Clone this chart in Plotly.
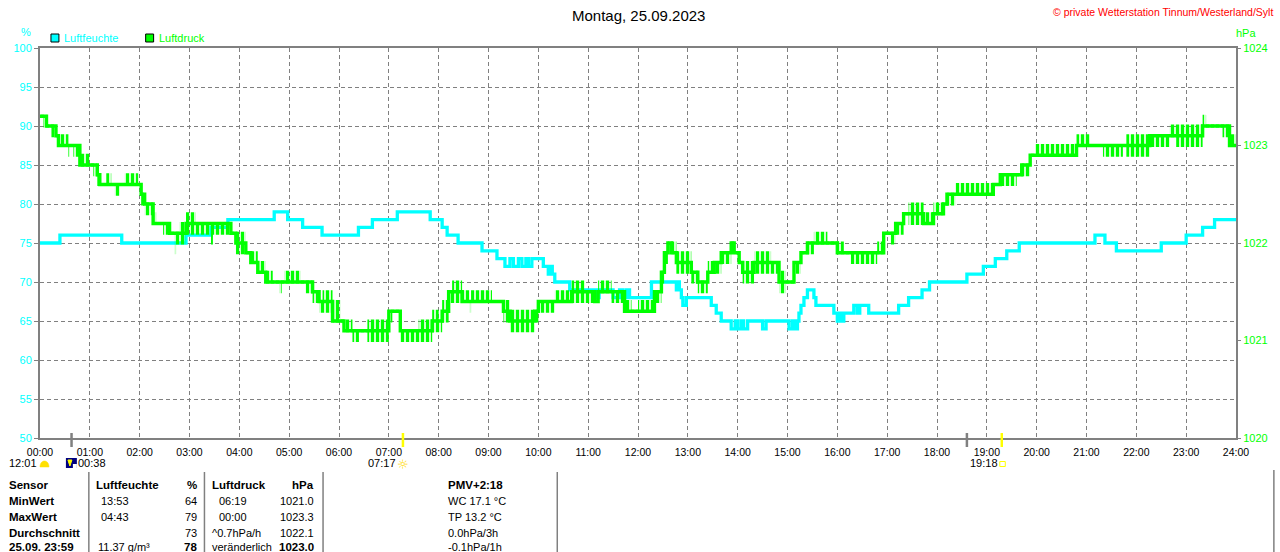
import plotly.graph_objects as go

# ---------------- data ----------------
hours = list(range(25))
hour_labels = [f"{h:02d}:00" for h in hours]
hum_ticks = [50, 55, 60, 65, 70, 75, 80, 85, 90, 95, 100]
press_ticks = [1020, 1021, 1022, 1023, 1024]

# Luftfeuchte (%) - step changes (hour, value)
hum_t = [0.00, 0.40, 1.64, 2.93, 3.43, 3.77, 4.70, 4.97, 5.27, 5.66, 6.39, 6.67, 7.17, 7.83,
         8.07, 8.17, 8.39, 8.87, 9.17, 9.33, 9.43, 9.50, 9.60, 9.67, 9.75, 9.80, 9.87, 10.10,
         10.20, 10.25, 10.28, 10.33, 10.63, 11.19, 11.22, 11.50, 11.63, 11.70, 11.77, 11.83,
         12.27, 12.77, 12.80, 12.83, 12.87, 12.90, 12.97, 13.47, 13.57, 13.67, 13.87, 13.95,
         14.00, 14.07, 14.12, 14.20, 14.50, 14.57, 15.03, 15.10, 15.15, 15.20, 15.23, 15.27,
         15.33, 15.40, 15.53, 15.57, 15.93, 16.00, 16.05, 16.10, 16.13, 16.33, 16.40, 16.45,
         16.63, 17.23, 17.43, 17.70, 17.85, 18.60, 18.93, 19.17, 19.40, 19.65, 21.17, 21.37,
         21.60, 22.50, 23.00, 23.33, 23.57, 24.00]
hum_v = [75, 76, 75, 76, 77, 78, 79, 78, 77, 76, 77, 78, 79, 78,
         77, 76, 75, 74, 73, 72, 73, 72, 73, 72, 73, 72, 73, 72,
         71, 72, 71, 70, 69, 68, 69, 68, 69, 68, 69, 68,
         70, 69, 70, 69, 68, 67, 68, 67, 66, 65, 64, 65,
         64, 65, 64, 65, 64, 65, 64, 65, 64, 65, 66, 67,
         68, 69, 68, 67, 66, 65, 66, 65, 66, 67, 66, 67,
         66, 67, 68, 69, 70, 71, 72, 73, 74, 75, 76, 75,
         74, 75, 76, 77, 78, 78]

# Luftdruck (hPa) - segments: start hour; lowest, highest and most frequent reading
press_t = [0.00, 0.07, 0.13, 0.23, 0.32, 0.37, 0.57, 0.60, 0.67, 0.80,
           1.00, 1.07, 1.15, 1.20, 1.33, 1.43, 1.50, 1.60, 1.70, 1.97,
           2.03, 2.10, 2.27, 2.33, 2.47, 2.60, 2.70, 2.73, 2.80, 2.93,
           3.13, 3.43, 3.47, 3.83, 3.93, 4.13, 4.23, 4.37, 4.53, 4.67,
           4.80, 4.85, 4.90, 5.23, 5.33, 5.47, 5.60, 5.67, 5.87, 6.03,
           6.10, 6.27, 6.40, 6.57, 7.00, 7.07, 7.23, 7.60, 7.87, 8.00,
           8.07, 8.20, 8.27, 8.47, 8.62, 8.65, 9.07, 9.30, 9.43, 9.93,
           10.00, 10.33, 10.67, 10.93, 11.13, 11.20, 11.47, 11.73, 11.87, 12.00,
           12.33, 12.47, 12.53, 12.60, 12.67, 12.77, 13.07, 13.20, 13.40, 13.53,
           13.67, 13.87, 13.93, 14.03, 14.10, 14.33, 14.67, 14.83, 14.97, 15.13,
           15.27, 15.40, 15.53, 15.80, 16.00, 16.13, 16.27, 16.80, 16.93, 17.07,
           17.17, 17.33, 17.43, 17.73, 17.93, 18.13, 18.20, 18.37, 19.13, 19.27,
           19.60, 19.70, 19.87, 19.97, 20.80, 21.07, 21.33, 21.73, 21.80, 22.27,
           22.67, 22.80, 23.33, 23.40, 23.73, 23.87, 24.00]
press_lo = [1023.3, 1023.2, 1023.2, 1023.1, 1023.1, 1023.0, 1022.9, 1023.0, 1022.9, 1022.8,
            1022.8, 1022.7, 1022.6, 1022.6, 1022.6, 1022.6, 1022.5, 1022.6, 1022.6, 1022.6,
            1022.4, 1022.3, 1022.2, 1022.2, 1022.1, 1022.1, 1021.9, 1022.0, 1022.0, 1022.1,
            1022.1, 1022.0, 1022.1, 1022.1, 1021.9, 1021.9, 1021.8, 1021.7, 1021.6, 1021.6,
            1021.5, 1021.6, 1021.6, 1021.6, 1021.5, 1021.4, 1021.3, 1021.3, 1021.2, 1021.2,
            1021.1, 1021.0, 1021.1, 1021.0, 1021.2, 1021.3, 1021.0, 1021.0, 1021.1, 1021.1,
            1021.2, 1021.4, 1021.4, 1021.4, 1021.3, 1021.4, 1021.4, 1021.2, 1021.1, 1021.2,
            1021.3, 1021.4, 1021.4, 1021.4, 1021.4, 1021.5, 1021.4, 1021.3, 1021.3, 1021.3,
            1021.4, 1021.6, 1021.8, 1022.0, 1021.9, 1021.7, 1021.6, 1021.5, 1021.7, 1021.7,
            1021.8, 1022.0, 1021.9, 1021.8, 1021.6, 1021.7, 1021.7, 1021.5, 1021.6, 1021.7,
            1021.9, 1021.9, 1022.0, 1022.0, 1021.9, 1021.9, 1021.8, 1021.9, 1022.1, 1022.0,
            1022.1, 1022.3, 1022.2, 1022.2, 1022.3, 1022.4, 1022.4, 1022.5, 1022.6, 1022.6,
            1022.7, 1022.7, 1022.9, 1022.9, 1023.0, 1023.0, 1022.9, 1023.0, 1022.9, 1023.0,
            1023.1, 1023.0, 1023.2, 1023.2, 1023.1, 1023.0]
press_hi = [1023.3, 1023.3, 1023.2, 1023.2, 1023.1, 1023.1, 1023.0, 1023.0, 1023.0, 1022.9,
            1022.8, 1022.8, 1022.7, 1022.6, 1022.7, 1022.6, 1022.6, 1022.6, 1022.7, 1022.6,
            1022.5, 1022.4, 1022.3, 1022.2, 1022.2, 1022.1, 1022.1, 1022.1, 1022.2, 1022.3,
            1022.2, 1022.2, 1022.2, 1022.1, 1022.1, 1021.9, 1021.9, 1021.8, 1021.7, 1021.6,
            1021.6, 1021.6, 1021.7, 1021.6, 1021.6, 1021.5, 1021.4, 1021.5, 1021.4, 1021.2,
            1021.2, 1021.1, 1021.1, 1021.2, 1021.3, 1021.3, 1021.1, 1021.2, 1021.3, 1021.2,
            1021.4, 1021.5, 1021.6, 1021.5, 1021.4, 1021.5, 1021.4, 1021.4, 1021.3, 1021.3,
            1021.4, 1021.5, 1021.6, 1021.5, 1021.4, 1021.6, 1021.5, 1021.4, 1021.3, 1021.4,
            1021.5, 1021.7, 1021.9, 1022.0, 1022.0, 1021.9, 1021.7, 1021.6, 1021.8, 1021.8,
            1021.9, 1022.0, 1021.9, 1021.8, 1021.8, 1021.9, 1021.8, 1021.7, 1021.6, 1021.8,
            1021.9, 1022.0, 1022.1, 1022.0, 1022.0, 1021.9, 1021.9, 1022.0, 1022.1, 1022.1,
            1022.2, 1022.3, 1022.4, 1022.3, 1022.4, 1022.4, 1022.5, 1022.6, 1022.6, 1022.7,
            1022.7, 1022.8, 1022.9, 1023.0, 1023.1, 1023.0, 1023.0, 1023.0, 1023.1, 1023.1,
            1023.2, 1023.2, 1023.3, 1023.2, 1023.2, 1023.1]
press_base = [1023.3, 1023.3, 1023.2, 1023.2, 1023.1, 1023.0, 1023.0, 1023.0, 1023.0, 1022.8,
              1022.8, 1022.8, 1022.7, 1022.6, 1022.6, 1022.6, 1022.6, 1022.6, 1022.6, 1022.6,
              1022.5, 1022.4, 1022.2, 1022.2, 1022.2, 1022.1, 1022.1, 1022.1, 1022.1, 1022.2,
              1022.2, 1022.2, 1022.2, 1022.1, 1022.0, 1021.9, 1021.8, 1021.7, 1021.6, 1021.6,
              1021.6, 1021.6, 1021.6, 1021.6, 1021.6, 1021.5, 1021.4, 1021.4, 1021.2, 1021.2,
              1021.1, 1021.1, 1021.1, 1021.1, 1021.3, 1021.3, 1021.1, 1021.1, 1021.2, 1021.2,
              1021.3, 1021.5, 1021.5, 1021.4, 1021.4, 1021.4, 1021.4, 1021.3, 1021.2, 1021.3,
              1021.4, 1021.4, 1021.5, 1021.5, 1021.4, 1021.5, 1021.5, 1021.3, 1021.3, 1021.3,
              1021.5, 1021.7, 1021.9, 1022.0, 1021.9, 1021.8, 1021.7, 1021.6, 1021.7, 1021.8,
              1021.9, 1022.0, 1021.9, 1021.8, 1021.7, 1021.8, 1021.8, 1021.6, 1021.6, 1021.8,
              1021.9, 1022.0, 1022.0, 1022.0, 1021.9, 1021.9, 1021.9, 1021.9, 1022.1, 1022.1,
              1022.2, 1022.3, 1022.3, 1022.2, 1022.3, 1022.4, 1022.5, 1022.5, 1022.6, 1022.7,
              1022.7, 1022.8, 1022.9, 1022.9, 1023.0, 1023.0, 1023.0, 1023.0, 1023.0, 1023.1,
              1023.1, 1023.1, 1023.2, 1023.2, 1023.2, 1023.0]

# moon / sun events on the time axis
event_t = [0.633, 7.283, 18.6, 19.3]
event_kind = ["moon", "sun", "moon", "sun"]

# statistics table
tbl_rows = ["Sensor", "MinWert", "MaxWert", "Durchschnitt", "25.09. 23:59"]
tbl_hum_time = ["Luftfeuchte", "13:53", "04:43", "", "11.37 g/m³"]
tbl_hum_val = ["%", "64", "79", "73", "78"]
tbl_press_time = ["Luftdruck", "06:19", "00:00", "^0.7hPa/h", "veränderlich"]
tbl_press_val = ["hPa", "1021.0", "1023.3", "1022.1", "1023.0"]
tbl_extra = ["PMV+2:18", "WC 17.1 °C", "TP 13.2 °C", "0.0hPa/3h", "-0.1hPa/1h"]

assert len(hum_t) == len(hum_v)
assert len(press_t) == len(press_lo) + 1 == len(press_hi) + 1 == len(press_base) + 1

# ---------------- figure ----------------
W, H = 1280, 552
L, R, T, B = 40, 1240, 48, 438
FONT = "Liberation Sans, Arial, sans-serif"
GRAY = "#808080"
CYAN = "#00FFFF"
GREEN = "#00FF00"
PEN = 0.016  # half pen width in hPa units (~1.5 px)


def X(px):
    return (px - L) / (R - L)


def Y(py):
    return (B - py) / (B - T)


fig = go.Figure()

# pressure: fluctuation range of each segment shown as dense vertical strokes
n = len(press_lo)
ex, ey = [], []
for i in range(n):
    ex += [press_t[i], press_t[i + 1]]
    ey += [press_hi[i] + PEN, press_hi[i] + PEN]
for i in reversed(range(n)):
    ex += [press_t[i + 1], press_t[i]]
    ey += [press_lo[i] - PEN, press_lo[i] - PEN]
ex.append(ex[0])
ey.append(ey[0])
fig.add_trace(go.Scatter(x=ex, y=ey, yaxis="y2", mode="lines", fill="toself",
                         fillcolor="rgba(0,0,0,0)",
                         fillpattern=dict(shape="|", size=5, solidity=0.68, fgcolor=GREEN,
                                          bgcolor="rgba(0,0,0,0)", fgopacity=1),
                         line=dict(width=0, color="rgba(0,0,0,0)"), hoverinfo="skip"))
# pressure: prevailing reading
bx = press_t
by = press_base + [press_base[-1]]
fig.add_trace(go.Scatter(x=bx, y=by, yaxis="y2", mode="lines",
                         line=dict(color=GREEN, width=3.4, shape="hv"), hoverinfo="skip"))

# humidity
fig.add_trace(go.Scatter(x=hum_t, y=hum_v, mode="lines", line=dict(color=CYAN, width=3.3, shape="hv"),
                         hoverinfo="skip"))

ann = []
shapes = []


def txt(px, py, s, color="black", size=11, anchor="left", bold=False, family=FONT):
    ann.append(dict(x=X(px), y=Y(py), xref="paper", yref="paper",
                    text=("<b>%s</b>" % s) if bold else s, showarrow=False,
                    xanchor=anchor, yanchor="middle", borderpad=0,
                    font=dict(size=size, color=color, family=family)))


# title and headers
txt(641, 15, "Montag, 25.09.2023", size=15, anchor="center")
txt(1278, 12, "© private Wetterstation Tinnum/Westerland/Sylt", color="#FF0000", size=10.5, anchor="right")
txt(26, 32, "%", color=CYAN, size=11, anchor="center")
txt(1250, 33, "hPa", color=GREEN, size=11, anchor="center")

# legend
shapes.append(dict(type="rect", xref="paper", yref="paper", x0=X(51), x1=X(59), y0=Y(42), y1=Y(34),
                   fillcolor=CYAN, line=dict(color="black", width=1)))
txt(63, 38, "Luftfeuchte", color=CYAN, size=11)
shapes.append(dict(type="rect", xref="paper", yref="paper", x0=X(146), x1=X(154), y0=Y(42), y1=Y(34),
                   fillcolor=GREEN, line=dict(color="black", width=1)))
txt(158, 38, "Luftdruck", color=GREEN, size=11)

# event ticks on the time axis
for t, k in zip(event_t, event_kind):
    shapes.append(dict(type="line", xref="x", yref="paper", x0=t, x1=t, y0=Y(447), y1=Y(433),
                       line=dict(color=(GRAY if k == "moon" else "#FFFF00"), width=2.5)))

# event labels + icons
txt(8, 463, "12:01", size=11)
shapes.append(dict(type="path", xref="paper", yref="paper",
                   path="M %f,%f C %f,%f %f,%f %f,%f Z" % (X(40), Y(467), X(40), Y(459), X(49), Y(459), X(49), Y(467)),
                   fillcolor="#FFE000", line=dict(color="#FFE000", width=0.5)))
shapes.append(dict(type="rect", xref="paper", yref="paper", x0=X(66), x1=X(77), y0=Y(468), y1=Y(458),
                   fillcolor="#000080", line=dict(width=0)))
shapes.append(dict(type="path", xref="paper", yref="paper",
                   path="M %f,%f L %f,%f L %f,%f Z" % (X(68), Y(460), X(72), Y(460), X(70), Y(466)),
                   fillcolor="#FFFF00", line=dict(color="#FFFF00", width=1)))
shapes.append(dict(type="rect", xref="paper", yref="paper", x0=X(73), x1=X(77), y0=Y(468), y1=Y(464),
                   fillcolor="white", line=dict(width=0)))
txt(77, 463, "00:38", size=11)
txt(398, 463, "07:17", size=11, anchor="right")
txt(404, 464, "☼", color="#FFD800", size=13, anchor="center", family="DejaVu Sans")
txt(972, 463, "19:18", size=11)
shapes.append(dict(type="rect", xref="paper", yref="paper", x0=X(1003), x1=X(1008.5), y0=Y(466.5), y1=Y(461.5),
                   line=dict(color="#FFFF00", width=1)))

# table separators
for sx, sy in [(89, 472), (205, 472), (324, 472), (559, 472), (1278, 470)]:
    shapes.append(dict(type="line", xref="paper", yref="paper", x0=X(sx), x1=X(sx), y0=Y(sy), y1=Y(556),
                       line=dict(color=GRAY, width=1.5)))

row_y = [485, 501, 517, 533, 547]
for i, yy in enumerate(row_y):
    head = (i == 0)
    last = (i == len(row_y) - 1)
    txt(8, yy, tbl_rows[i], size=11.5, bold=True)
    txt(95 if head else (97 if last else 100), yy, tbl_hum_time[i], size=11.5 if head else 11, bold=head)
    txt(199, yy, tbl_hum_val[i], size=11.5 if (head or last) else 11, bold=(head or last), anchor="right")
    txt(212 if (head or i >= 3) else 219, yy, tbl_press_time[i], size=11.5 if head else 11, bold=head)
    txt(316, yy, tbl_press_val[i], size=11.5 if (head or last) else 11, bold=(head or last), anchor="right")
    txt(448, yy, tbl_extra[i], size=11.5 if head else 11, bold=head)

fig.update_layout(
    width=W, height=H,
    margin=dict(l=L, r=W - R, t=T, b=H - B, pad=0),
    plot_bgcolor="white", paper_bgcolor="white",
    showlegend=False,
    font=dict(family=FONT),
    annotations=ann, shapes=shapes,
    xaxis=dict(range=[0, 24], tickvals=hours, ticktext=hour_labels, showgrid=True,
               gridcolor=GRAY, griddash="4px,3px", gridwidth=1, zeroline=False,
               showline=True, linecolor=GRAY, linewidth=2, mirror=True,
               ticks="outside", ticklen=3, tickcolor="rgba(0,0,0,0)",
               tickfont=dict(size=10.5, color="black", family=FONT), fixedrange=True),
    yaxis=dict(range=[50, 100], tickvals=hum_ticks, showgrid=True,
               gridcolor=GRAY, griddash="4px,3px", gridwidth=1, zeroline=False,
               showline=True, linecolor=GRAY, linewidth=2, mirror=True,
               ticks="outside", ticklen=4, tickcolor=GRAY, tickwidth=1,
               tickfont=dict(size=11, color=CYAN, family=FONT), fixedrange=True),
    yaxis2=dict(range=[1020, 1024], tickvals=press_ticks, overlaying="y", side="right",
                showgrid=False, zeroline=False, showline=False,
                ticks="outside", ticklen=4, tickcolor=GRAY, tickwidth=1,
                tickfont=dict(size=11, color=GREEN, family=FONT), fixedrange=True),
)

fig.write_html("out.html", config={"displayModeBar": False},
               post_script="document.body.style.margin='0';document.body.style.overflow='hidden';")
